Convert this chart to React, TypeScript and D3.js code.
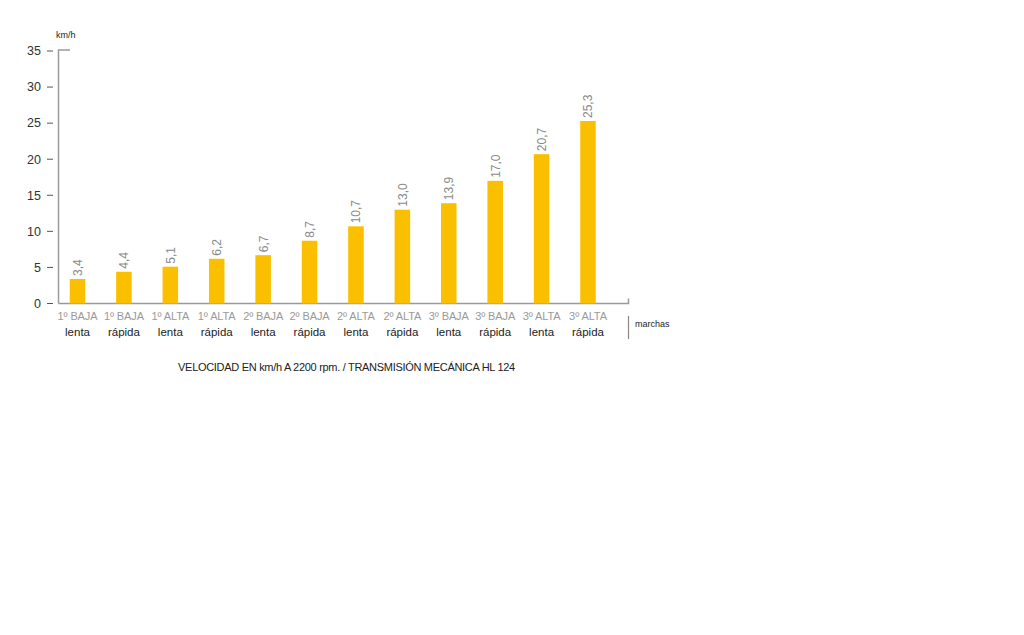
import React from "react";
import * as d3 from "d3";

const gearsTop = ["1º BAJA", "1º BAJA", "1º ALTA", "1º ALTA", "2º BAJA", "2º BAJA", "2º ALTA", "2º ALTA", "3º BAJA", "3º BAJA", "3º ALTA", "3º ALTA"];
const gearsBottom = ["lenta", "rápida", "lenta", "rápida", "lenta", "rápida", "lenta", "rápida", "lenta", "rápida", "lenta", "rápida"];
const speeds = [3.4, 4.4, 5.1, 6.2, 6.7, 8.7, 10.7, 13.0, 13.9, 17.0, 20.7, 25.3];
const yTicks = [0, 5, 10, 15, 20, 25, 30, 35];

const FONT = "'Liberation Sans', Arial, Helvetica, sans-serif";

export default function App() {
  const W = 1024, H = 635;
  const idx = speeds.map((_, i) => String(i));
  const x = d3.scaleBand<string>().domain(idx).range([54.3, 611.2]).paddingInner(0.665).paddingOuter(0.3325);
  const y = d3.scaleLinear().domain([0, 35]).range([303.5, 51]);
  const axisColor = "#9a9a9a";
  const fmt = (v: number) => v.toFixed(1).replace(".", ",");
  return (
    <svg width={W} height={H} style={{ position: "absolute", left: 0, top: 0, background: "#fff" }} fontFamily={FONT}>
      <text x={56} y={38} fontSize={9} fill="#222">km/h</text>
      {/* y axis */}
      <path d={`M70,${y(35) - 1}H58.5V${y(0)}`} fill="none" stroke={axisColor} strokeWidth={1.5} />
      {yTicks.map((t) => (
        <g key={t}>
          <line x1={47} x2={53} y1={y(t)} y2={y(t)} stroke="#555" strokeWidth={1} />
          <text x={41} y={y(t) + 4.3} fontSize={12.5} textAnchor="end" fill="#333">{t}</text>
        </g>
      ))}
      {/* x baseline */}
      <path d={`M58.5,${y(0)}H628.5V${y(0) - 5}`} fill="none" stroke={axisColor} strokeWidth={1.5} />
      {speeds.map((v, i) => {
        const bx = x(String(i))!;
        const cx = bx + x.bandwidth() / 2;
        return (
          <g key={i}>
            <rect x={bx} y={y(v)} width={x.bandwidth()} height={y(0) - y(v)} fill="#FAC000" />
            <text transform={`translate(${cx + 4.5},${y(v) - 3}) rotate(-90)`} fontSize={12} fill="#8a8a8a">{fmt(v)}</text>
            <text x={cx} y={320} fontSize={11} textAnchor="middle" fill="#9a9a9a" letterSpacing={-0.1}>{gearsTop[i]}</text>
            <text x={cx} y={336} fontSize={11.5} textAnchor="middle" fill="#222">{gearsBottom[i]}</text>
          </g>
        );
      })}
      <line x1={628.5} x2={628.5} y1={316} y2={339} stroke="#888" strokeWidth={1.2} />
      <text x={635} y={327} fontSize={9} fill="#222">marchas</text>
      <text x={346.5} y={371} fontSize={11} textAnchor="middle" fill="#222" letterSpacing={-0.3}>VELOCIDAD EN km/h A 2200 rpm. / TRANSMISIÓN MECÁNICA HL 124</text>
    </svg>
  );
}
